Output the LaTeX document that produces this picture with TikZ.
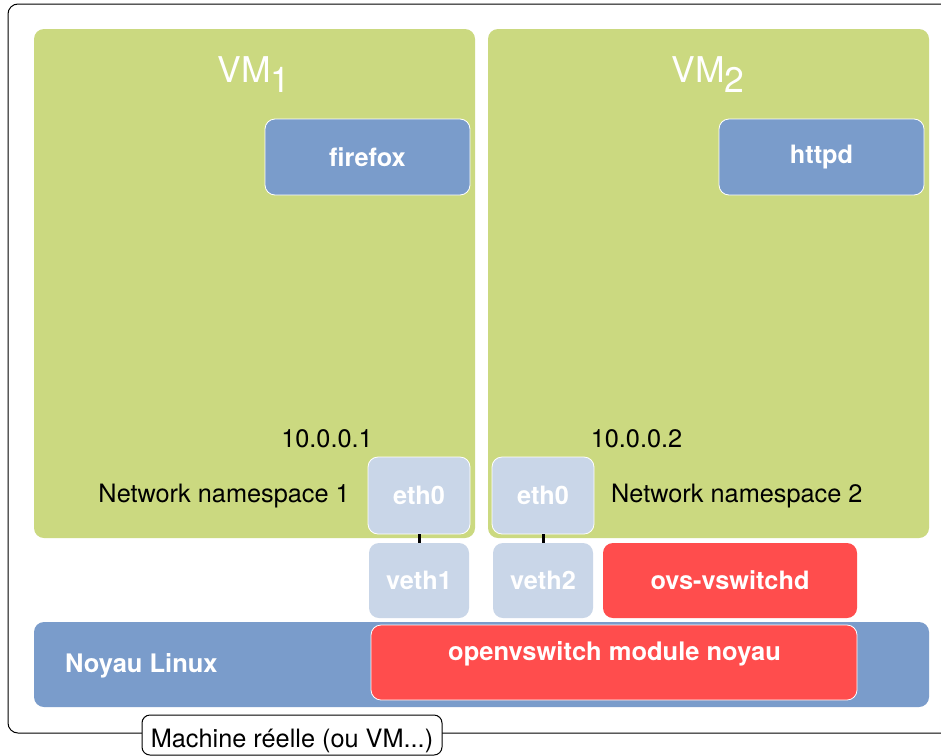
\documentclass[tikz,border=0pt]{standalone}
\usepackage{fontspec}
\setmainfont{TeX Gyre Heros}
\definecolor{vmgreen}{RGB}{203,217,128}
\definecolor{procblue}{RGB}{122,156,203}
\definecolor{ifblue}{RGB}{201,214,232}
\definecolor{ovsred}{RGB}{255,77,77}
\tikzset{
  box/.style={rectangle, rounded corners=10pt, inner sep=0pt, outer sep=0pt},
  vmbox/.style={box, fill=vmgreen, minimum width=441pt, minimum height=509pt},
  procbox/.style={box, fill=procblue, draw=white, line width=0.8pt,
    minimum width=205pt, minimum height=76pt, text=white,
    font=\fontsize{25.3}{29}\selectfont\bfseries},
  ifbox/.style={box, fill=ifblue, minimum width=100pt, minimum height=75pt,
    text=white, font=\fontsize{25.3}{29}\selectfont\bfseries},
  redbox/.style={box, fill=ovsred, text=white,
    font=\fontsize{25.3}{29}\selectfont\bfseries},
  plain/.style={inner sep=0pt, font=\fontsize{25.3}{29}\selectfont},
  boldtext/.style={inner sep=0pt, text=white, font=\fontsize{25.5}{29}\selectfont\bfseries},
  vmtitle/.style={inner sep=0pt, text=white, font=\fontsize{35.5}{40}\selectfont},
  wire/.style={line width=3pt, black}
}
\begin{document}
\begin{tikzpicture}[x=1pt, y=-1pt]
\useasboundingbox (0,0) rectangle (941,755);
\clip (0,0) rectangle (941,755);
\fill[white] (0,0) rectangle (941,755);

% host machine frame
\draw[line width=1pt, rounded corners=10pt] (8,4) rectangle (975,733);

% the two virtual machines
\node[vmbox] (vm1) at (254.5,283.5) {};
\node[vmbox] (vm2) at (708.5,283.5) {};
\node[vmtitle, anchor=base] (vm1t) at (254,82) {VM\raisebox{-10pt}{1}};
\node[vmtitle, anchor=base] (vm2t) at (708,82) {VM\raisebox{-10pt}{2}};

% applications
\node[procbox] (firefox) at (367.5,157) {firefox};
\node[procbox] (httpd) at (821.5,157) {httpd};

% addresses and namespaces
\node[plain, anchor=base] (ip1) at (327,447) {10.0.0.1};
\node[plain, anchor=base] (ip2) at (636.5,447) {10.0.0.2};
\node[plain, anchor=base east] (ns1) at (350,502) {Network namespace 1};
\node[plain, anchor=base west] (ns2) at (611,502) {Network namespace 2};

% interfaces
\node[ifbox, draw=white, line width=0.8pt, minimum width=102pt, minimum height=77pt] (eth1) at (419,495.5) {eth0};
\node[ifbox, draw=white, line width=0.8pt, minimum width=102pt, minimum height=77pt] (eth2) at (543,495.5) {eth0};
\node[ifbox] (veth1) at (419,580.5) {veth1};
\node[ifbox] (veth2) at (543,580.5) {veth2};
\draw[wire] (eth1.south) -- (veth1.north);
\draw[wire] (eth2.south) -- (veth2.north);

% Open vSwitch daemon
\node[redbox, minimum width=254pt, minimum height=75pt] (ovsd) at (730,580.5) {ovs-vswitchd};

% kernel
\node[box, fill=procblue, minimum width=895pt, minimum height=85pt] (kernel) at (481.5,664.5) {};
\node[boldtext, anchor=base west] (kernelt) at (65,672) {Noyau Linux};
\node[redbox, draw=white, line width=0.8pt, minimum width=486pt, minimum height=75pt] (ovsmod) at (614,662.5) {};
\node[boldtext, anchor=base] (ovsmodt) at (614.5,660) {openvswitch module noyau};

% caption tab of the host frame
\node[box, rounded corners=8pt, draw=black, line width=1pt, fill=white, minimum width=300pt, minimum height=40pt] (host) at (292,735) {};
\node[plain, anchor=base] (hostt) at (292,747) {Machine réelle (ou VM...)};
\end{tikzpicture}
\end{document}
